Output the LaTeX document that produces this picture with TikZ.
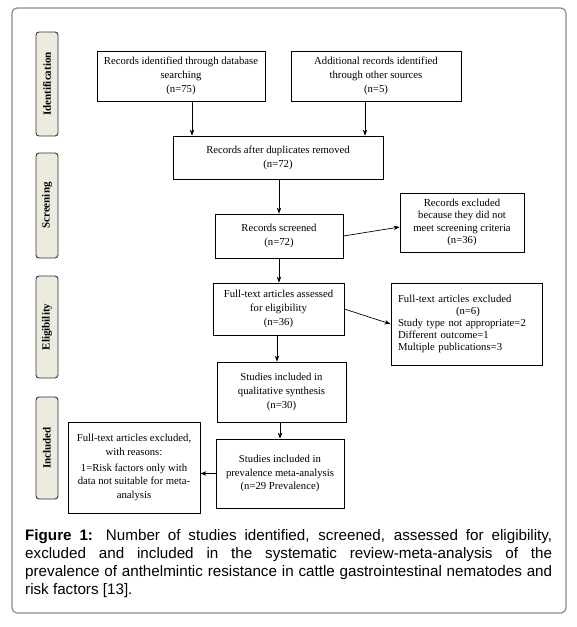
\documentclass[tikz,border=0pt]{standalone}
\usepackage{fontspec}
\setmainfont{Liberation Serif}
\newfontfamily\capfont{Liberation Sans}
\usetikzlibrary{arrows.meta,calc}
\definecolor{labfill}{HTML}{EDEBDF}
\definecolor{framecol}{HTML}{8C8C8C}
\begin{document}
\begin{tikzpicture}[x=1pt,y=-1pt,
  box/.style={draw,line width=0.8pt,align=center,inner sep=0pt,font=\fontsize{10.7}{13.8}\selectfont},
  lab/.style={draw=black!80,fill=labfill,rounded corners=3pt,line width=0.9pt,inner sep=0pt,minimum height=22pt,rotate=90,font=\bfseries\fontsize{11}{12}\selectfont},
  arr/.style={-{Stealth[length=6pt,width=4.5pt]},line width=0.7pt}]
\useasboundingbox (0,0) rectangle (577,627);
\draw[framecol,line width=1.2pt,rounded corners=5pt] (12,8) rectangle (566,613);

% phase labels
\node[lab,minimum width=104pt] (lid) at (47,84) {Identification};
\node[lab,minimum width=105pt] (lsc) at (47,205.5) {Screening};
\node[lab,minimum width=102pt] (lel) at (47,327) {Eligibility};
\node[lab,minimum width=102pt] (lin) at (47,448) {Included};

% boxes
\node[box,minimum width=168pt,minimum height=50pt] (b1) at (181,76) {Records identified through database\\searching\\(n=75)};
\node[box,minimum width=170pt,minimum height=50pt] (b2) at (376,76) {Additional records identified\\through other sources\\(n=5)};
\node[box,minimum width=210pt,minimum height=43pt] (dup) at (278,157.5) {Records after duplicates removed\\(n=72)};
\node[box,minimum width=128pt,minimum height=44pt] (scr) at (279,236) {Records screened\\(n=72)};
\node[box,minimum width=124pt,minimum height=59pt,font=\fontsize{10.7}{12.6}\selectfont] (exc) at (462,222.5) {Records excluded\\because they did not\\meet screening criteria\\(n=36)};
\node[box,minimum width=131pt,minimum height=52pt] (ass) at (278.5,309) {Full-text articles assessed\\for eligibility\\(n=36)};
\node[box,minimum height=82pt,text width=137pt,inner xsep=7pt,align=left,font=\fontsize{10.7}{12.2}\selectfont] (fte) at (466.5,324) {Full-text articles excluded\\\hspace*{58pt}(n=6)\\Study type not appropriate=2\\Different outcome=1\\Multiple publications=3};
\node[box,minimum width=129pt,minimum height=60pt] (qual) at (281.5,392) {Studies included in\\qualitative synthesis\\(n=30)};
\node[box,minimum width=128pt,minimum height=69pt] (prev) at (280,473.5) {Studies included in\\prevalence meta-analysis\\(n=29 Prevalence)};
\node[box,minimum width=132pt,minimum height=91pt,font=\fontsize{10.7}{13.4}\selectfont] (left) at (134,467.5) {Full-text articles excluded,\\with reasons:\\[3pt]1=Risk factors only with\\data not suitable for meta-\\analysis};

% arrow columns
\coordinate (x1) at (192,0);
\coordinate (x2) at (365,0);
\coordinate (x3) at (279,0);
\coordinate (x4) at (277,0);
\coordinate (x5) at (280,0);

\draw[arr] (b1.south -| x1) -- (dup.north -| x1);
\draw[arr] (b2.south -| x2) -- (dup.north -| x2);
\draw[arr] (dup.south -| x3) -- (scr.north -| x3);
\draw[arr] (scr.south -| x3) -- (ass.north -| x3);
\draw[arr] (ass.south -| x4) -- (qual.north -| x4);
\draw[arr] (qual.south -| x5) -- (prev.north -| x5);
\draw[arr] (scr.east) -- ($(exc.west)+(0,4.5)$);
\draw[arr] (ass.east) -- (fte.west);
\draw[arr] (prev.west) -- (left.east |- prev.west);

% caption
\node[anchor=north west,text width=527pt,align=justify,inner sep=0pt,font=\capfont\fontsize{15.2}{18}\selectfont] (cap) at (25,529.5) {\hyphenpenalty=10000\exhyphenpenalty=10000\textbf{Figure 1:} Number of studies identified, screened, assessed for eligibility,\linebreak excluded and included in the systematic review-meta-analysis of the\linebreak prevalence of anthelmintic resistance in cattle gastrointestinal nematodes and\linebreak risk factors [13].};
\end{tikzpicture}
\end{document}
